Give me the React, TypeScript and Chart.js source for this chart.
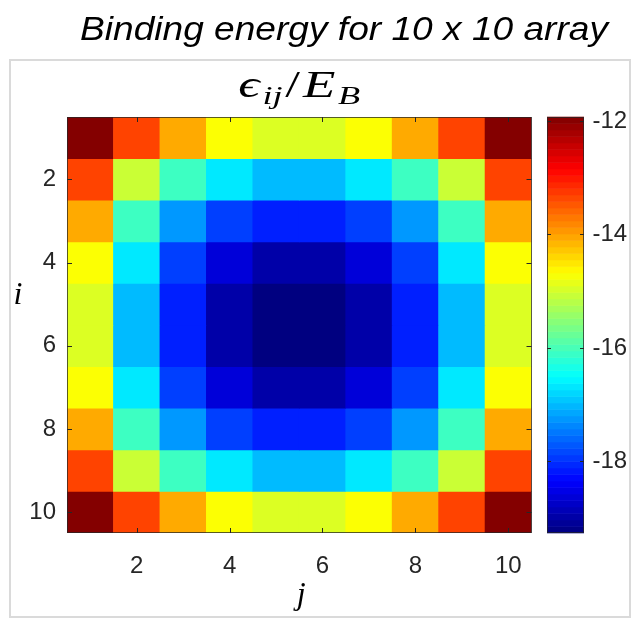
import React, { useEffect, useRef } from 'react';
import { Chart, registerables } from 'chart.js';

Chart.register(...registerables);

// ---- data ----
const columns = [1, 2, 3, 4, 5, 6, 7, 8, 9, 10];
const rowIndices = [1, 2, 3, 4, 5, 6, 7, 8, 9, 10];
const row1 = [-11.96, -13.33, -14.07, -14.7, -14.93, -14.93, -14.7, -14.07, -13.33, -11.96];
const row2 = [-13.33, -15.06, -16.07, -16.67, -17.0, -17.0, -16.67, -16.07, -15.06, -13.33];
const row3 = [-14.07, -16.07, -17.25, -17.89, -18.12, -18.12, -17.89, -17.25, -16.07, -14.07];
const row4 = [-14.7, -16.67, -17.89, -18.62, -18.97, -18.97, -18.62, -17.89, -16.67, -14.7];
const row5 = [-14.93, -17.0, -18.12, -18.97, -19.26, -19.26, -18.97, -18.12, -17.0, -14.93];
const row6 = [-14.93, -17.0, -18.12, -18.97, -19.26, -19.26, -18.97, -18.12, -17.0, -14.93];
const row7 = [-14.7, -16.67, -17.89, -18.62, -18.97, -18.97, -18.62, -17.89, -16.67, -14.7];
const row8 = [-14.07, -16.07, -17.25, -17.89, -18.12, -18.12, -17.89, -17.25, -16.07, -14.07];
const row9 = [-13.33, -15.06, -16.07, -16.67, -17.0, -17.0, -16.67, -16.07, -15.06, -13.33];
const row10 = [-11.96, -13.33, -14.07, -14.7, -14.93, -14.93, -14.7, -14.07, -13.33, -11.96];
const energies = [row1, row2, row3, row4, row5, row6, row7, row8, row9, row10];

const xTicks = [2, 4, 6, 8, 10];
const yTicks = [2, 4, 6, 8, 10];
const cbTicks = [-18, -16, -14, -12];
const cMin = -19.26;
const cMax = -11.93;
const colormapSize = 64;

const mainTitle = 'Binding energy for 10 x 10 array';
const xLabel = 'j';
const yLabel = 'i';

// ---- helpers ----
function jetRGB(t: number): string {
  const c = (x: number) => Math.max(0, Math.min(1, x));
  const r = c(1.5 - Math.abs(4 * t - 3));
  const g = c(1.5 - Math.abs(4 * t - 2));
  const b = c(1.5 - Math.abs(4 * t - 1));
  return `rgb(${Math.round(r * 255)},${Math.round(g * 255)},${Math.round(b * 255)})`;
}
const norm = (v: number) => (v - cMin) / (cMax - cMin);

const TICK_FONT = { family: '"Liberation Sans", Arial, sans-serif', size: 24 };
const TICK_COLOR = '#262626';
const SERIF = '"Liberation Serif", "DejaVu Serif", serif';

const decorPlugin = {
  id: 'decor',
  afterDraw(chart: any) {
    const ctx = chart.ctx as CanvasRenderingContext2D;
    const area = chart.chartArea;
    const xs = chart.scales.x;
    const ys = chart.scales.y;
    const cb = chart.scales.cb;
    ctx.save();

    // figure frame
    ctx.strokeStyle = '#dadada';
    ctx.lineWidth = 2;
    ctx.strokeRect(10, 60, 620, 557);

    // axes box
    ctx.strokeStyle = 'rgba(38,38,38,0.75)';
    ctx.lineWidth = 1;
    ctx.strokeRect(Math.round(area.left) + 0.5, Math.round(area.top) + 0.5,
      Math.round(area.right - area.left) - 1, Math.round(area.bottom - area.top) - 1);

    // inward tick marks
    ctx.strokeStyle = '#262626';
    ctx.beginPath();
    const tl = 5;
    xTicks.forEach((c) => {
      const px = Math.round(xs.getPixelForValue(columns.indexOf(c))) + 0.5;
      ctx.moveTo(px, area.top); ctx.lineTo(px, area.top + tl);
      ctx.moveTo(px, area.bottom); ctx.lineTo(px, area.bottom - tl);
    });
    yTicks.forEach((r) => {
      const py = Math.round(ys.getPixelForValue(r)) + 0.5;
      ctx.moveTo(area.left, py); ctx.lineTo(area.left + tl, py);
      ctx.moveTo(area.right, py); ctx.lineTo(area.right - tl, py);
    });
    ctx.stroke();

    // colorbar
    const cbLeft = area.right + 15.5;
    const cbWidth = 37;
    for (let k = 0; k < colormapSize; k++) {
      const v0 = cMin + (k * (cMax - cMin)) / colormapSize;
      const v1 = cMin + ((k + 1) * (cMax - cMin)) / colormapSize;
      const y0 = cb.getPixelForValue(v0);
      const y1 = cb.getPixelForValue(v1);
      ctx.fillStyle = jetRGB((k + 0.5) / colormapSize);
      ctx.fillRect(cbLeft, y1 - 0.3, cbWidth, y0 - y1 + 0.6);
    }
    ctx.strokeStyle = 'rgba(38,38,38,0.75)';
    ctx.strokeRect(Math.round(cbLeft) + 0.5, Math.round(cb.top) + 0.5, cbWidth - 1, Math.round(cb.bottom - cb.top) - 1);
    ctx.strokeStyle = '#262626';
    ctx.beginPath();
    cbTicks.forEach((v) => {
      const py = Math.round(cb.getPixelForValue(v)) + 0.5;
      ctx.moveTo(cbLeft, py); ctx.lineTo(cbLeft + 4, py);
      ctx.moveTo(cbLeft + cbWidth, py); ctx.lineTo(cbLeft + cbWidth - 4, py);
    });
    ctx.stroke();

    // main title (slightly widened like the source figure)
    ctx.fillStyle = '#000';
    ctx.font = 'italic 34px "Liberation Sans", Arial, sans-serif';
    ctx.textAlign = 'center';
    ctx.textBaseline = 'alphabetic';
    const tw = ctx.measureText(mainTitle).width;
    const tsx = 528 / tw;
    ctx.save();
    ctx.translate(344, 40);
    ctx.scale(tsx, 1);
    ctx.fillText(mainTitle, 0, 0);
    ctx.restore();

    // math title  eps_ij / E_B
    const big = `italic 38px ${SERIF}`;
    const bigUp = `38px ${SERIF}`;
    const small = `italic 26px ${SERIF}`;
    const parts: [string, string, number][] = [
      ['\u03F5', big, 0],
      ['ij', small, 7],
      ['/', bigUp, 0],
      ['E', big, 0],
      ['B', small, 7],
    ];
    const gap = 2;
    let total = 0;
    const widths = parts.map(([s, f]) => { ctx.font = f; const w = ctx.measureText(s).width; total += w; return w; });
    total += gap * (parts.length - 1);
    const msx = 122 / total;
    ctx.save();
    ctx.translate((area.left + area.right) / 2, 97);
    ctx.scale(msx, 1);
    let x = -total / 2;
    ctx.textAlign = 'left';
    parts.forEach(([s, f, dy], idx) => {
      ctx.font = f;
      ctx.fillText(s, x, dy);
      x += widths[idx] + gap;
    });
    ctx.restore();

    // axis labels
    ctx.font = `italic 32px ${SERIF}`;
    ctx.textAlign = 'center';
    ctx.fillText(yLabel, 18, 304);
    ctx.fillText(xLabel, (area.left + area.right) / 2 + 2, 604);

    ctx.restore();
  },
};

export default function App() {
  const ref = useRef<HTMLCanvasElement>(null);
  useEffect(() => {
    if (!ref.current) return;
    const datasets = rowIndices.map((i, r) => ({
      label: `i=${i}`,
      data: columns.map(() => [i - 0.5, i + 0.5]),
      backgroundColor: energies[r].map((v) => jetRGB(norm(v))),
      borderWidth: 0,
      borderSkipped: false,
      grouped: false,
      barPercentage: 1,
      categoryPercentage: 1,
      yAxisID: 'y',
      xAxisID: 'x',
    }));
    const chart = new Chart(ref.current, {
      type: 'bar',
      data: { labels: columns.map(String), datasets: datasets as any },
      options: {
        animation: false,
        responsive: false,
        layout: { padding: { top: 117, left: 0, right: 0, bottom: 0 } },
        plugins: { legend: { display: false }, tooltip: { enabled: false }, title: { display: false } },
        scales: {
          x: {
            type: 'category',
            grid: { display: false, drawTicks: false },
            border: { display: false },
            ticks: {
              autoSkip: false,
              maxRotation: 0,
              padding: 19,
              color: TICK_COLOR,
              font: TICK_FONT,
              callback: (_v: any, index: number) => (xTicks.includes(columns[index]) ? String(columns[index]) : ''),
            },
            afterFit: (s: any) => { s.height = 89; },
          },
          y: {
            type: 'linear',
            reverse: true,
            min: 0.5,
            max: 10.5,
            grid: { display: false, drawTicks: false },
            border: { display: false },
            ticks: { padding: 11, color: TICK_COLOR, font: TICK_FONT, callback: (v: any) => String(v) },
            afterBuildTicks: (s: any) => { s.ticks = yTicks.map((v) => ({ value: v })); },
            afterFit: (s: any) => { s.width = 67; },
          },
          cb: {
            type: 'linear',
            position: 'right',
            min: cMin,
            max: cMax,
            grid: { display: false, drawTicks: false },
            border: { display: false },
            ticks: { padding: 61, color: TICK_COLOR, font: TICK_FONT, callback: (v: any) => String(v) },
            afterBuildTicks: (s: any) => { s.ticks = cbTicks.map((v) => ({ value: v })); },
            afterFit: (s: any) => { s.width = 101.5; },
          },
        },
      } as any,
      plugins: [decorPlugin],
    });
    return () => chart.destroy();
  }, []);
  return (
    <div style={{ position: 'absolute', left: 0, top: 0, width: 633, height: 622, background: '#fff' }}>
      <canvas ref={ref} width={633} height={622} style={{ display: 'block' }} />
    </div>
  );
}
